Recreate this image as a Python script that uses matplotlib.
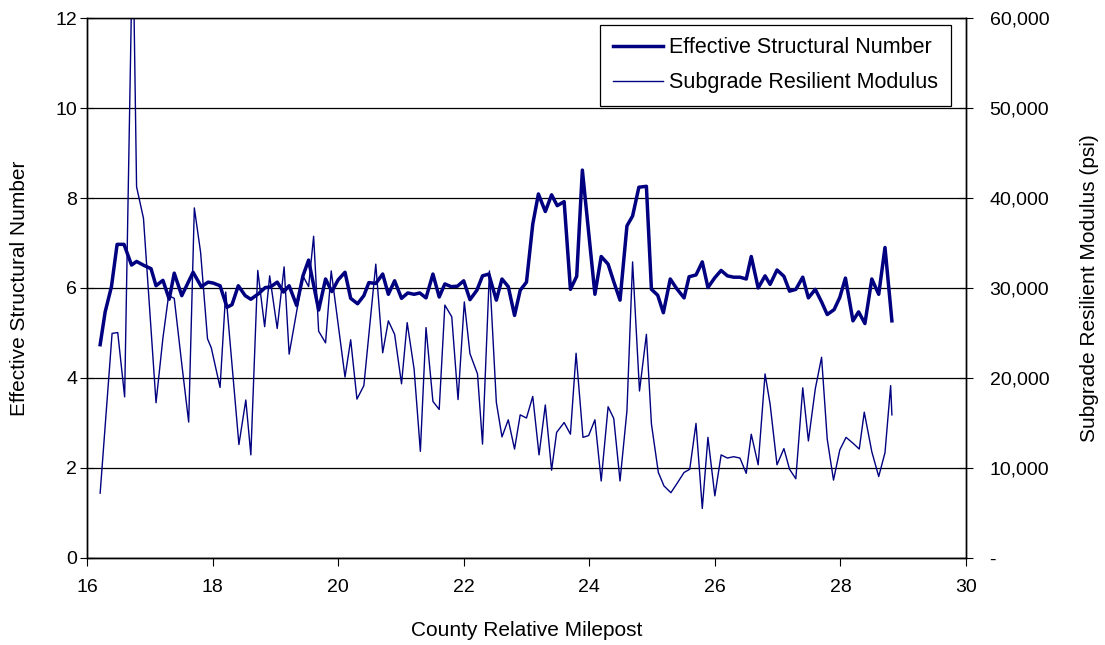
import matplotlib.pyplot as plt
from matplotlib.ticker import FuncFormatter
from matplotlib.lines import Line2D

plt.rcParams['font.family'] = ['Liberation Sans', 'DejaVu Sans']

# Effective Structural Number vs milepost
mp_sn = [16.21, 16.29, 16.39, 16.48, 16.59, 16.71, 16.79, 16.91, 17.02, 17.10,
         17.21, 17.31, 17.39, 17.51, 17.69, 17.82, 17.93, 18.01, 18.12, 18.23,
         18.31, 18.41, 18.52, 18.61, 18.73, 18.84, 18.92, 19.03, 19.13, 19.22,
         19.34, 19.44, 19.53, 19.69, 19.80, 19.90, 20.00, 20.11, 20.20, 20.31,
         20.41, 20.49, 20.60, 20.71, 20.80, 20.90, 21.01, 21.11, 21.21, 21.30,
         21.40, 21.51, 21.61, 21.70, 21.80, 21.90, 22.00, 22.10, 22.21, 22.30,
         22.40, 22.52, 22.61, 22.71, 22.81, 22.90, 23.00, 23.10, 23.19, 23.30,
         23.40, 23.49, 23.60, 23.70, 23.80, 23.89, 24.09, 24.19, 24.30, 24.39,
         24.49, 24.60, 24.69, 24.79, 24.91, 24.99, 25.09, 25.18, 25.29, 25.39,
         25.51, 25.59, 25.70, 25.80, 25.89, 26.00, 26.10, 26.20, 26.30, 26.40,
         26.50, 26.58, 26.69, 26.80, 26.88, 26.99, 27.10, 27.19, 27.29, 27.40,
         27.49, 27.60, 27.70, 27.79, 27.90, 27.99, 28.08, 28.20, 28.29, 28.39,
         28.50, 28.61, 28.71, 28.82]
sn = [4.74, 5.47, 6.03, 6.97, 6.97, 6.51, 6.59, 6.50, 6.43, 6.05,
      6.17, 5.75, 6.33, 5.83, 6.35, 6.03, 6.13, 6.11, 6.05, 5.57,
      5.63, 6.05, 5.83, 5.75, 5.87, 6.01, 6.02, 6.13, 5.91, 6.05,
      5.61, 6.27, 6.62, 5.51, 6.20, 5.92, 6.18, 6.35, 5.77, 5.65,
      5.83, 6.12, 6.10, 6.31, 5.86, 6.16, 5.77, 5.89, 5.86, 5.89,
      5.78, 6.31, 5.80, 6.09, 6.03, 6.04, 6.16, 5.74, 5.95, 6.27,
      6.31, 5.73, 6.20, 6.03, 5.39, 5.95, 6.13, 7.42, 8.09, 7.70,
      8.07, 7.83, 7.92, 5.97, 6.26, 8.62, 5.86, 6.70, 6.53, 6.14,
      5.73, 7.38, 7.60, 8.24, 8.26, 5.97, 5.84, 5.45, 6.20, 5.99,
      5.78, 6.25, 6.29, 6.58, 6.01, 6.23, 6.39, 6.27, 6.24, 6.24,
      6.20, 6.70, 6.00, 6.27, 6.08, 6.40, 6.26, 5.93, 5.97, 6.24,
      5.78, 5.97, 5.69, 5.41, 5.52, 5.79, 6.22, 5.27, 5.47, 5.21,
      6.20, 5.86, 6.90, 5.27]

# Subgrade resilient modulus (psi) vs milepost
mp_mr = [16.21, 16.40, 16.49, 16.60, 16.73, 16.79, 16.90, 17.10, 17.21, 17.30,
         17.39, 17.51, 17.62, 17.71, 17.81, 17.92, 17.98, 18.12, 18.21, 18.42,
         18.53, 18.61, 18.72, 18.83, 18.91, 19.03, 19.14, 19.22, 19.44, 19.53,
         19.61, 19.69, 19.80, 19.89, 20.11, 20.20, 20.30, 20.41, 20.60, 20.71,
         20.80, 20.90, 21.01, 21.10, 21.21, 21.31, 21.40, 21.51, 21.61, 21.70,
         21.81, 21.91, 22.01, 22.10, 22.22, 22.30, 22.41, 22.52, 22.61, 22.71,
         22.81, 22.90, 23.00, 23.10, 23.20, 23.30, 23.40, 23.48, 23.60, 23.70,
         23.79, 23.90, 23.99, 24.09, 24.19, 24.30, 24.39, 24.49, 24.60, 24.69,
         24.80, 24.91, 24.99, 25.10, 25.19, 25.30, 25.40, 25.51, 25.60, 25.70,
         25.80, 25.89, 26.00, 26.10, 26.20, 26.30, 26.40, 26.50, 26.58, 26.69,
         26.80, 26.88, 26.99, 27.10, 27.19, 27.29, 27.40, 27.49, 27.60, 27.70,
         27.79, 27.89, 27.99, 28.09, 28.20, 28.30, 28.38, 28.50, 28.61, 28.71,
         28.80, 28.82]
mr = [7200, 24950, 25050, 17900, 70000, 41250, 37750, 17250, 24450, 29150,
      28850, 21550, 15100, 38900, 33950, 24350, 23350, 18950, 29550, 12600,
      17550, 11450, 31950, 25700, 31350, 25500, 32350, 22650, 31350, 30150,
      35750, 25200, 23900, 31900, 20100, 24250, 17650, 19150, 32650, 22800,
      26350, 24850, 19350, 26150, 21000, 11850, 25600, 17400, 16500, 28100,
      26800, 17600, 28450, 22700, 20450, 12650, 31900, 17300, 13450, 15350,
      12100, 15900, 15550, 17950, 11450, 17000, 9750, 13950, 15050, 13750,
      22750, 13400, 13600, 15350, 8550, 16800, 15500, 8550, 16350, 32900,
      18550, 24850, 14900, 9500, 8000, 7250, 8300, 9500, 9850, 14950,
      5500, 13400, 6900, 11450, 11100, 11250, 11100, 9400, 13750, 10350,
      20450, 17100, 10350, 12150, 9850, 8800, 18900, 13000, 18800, 22300,
      13200, 8650, 12000, 13400, 12750, 12100, 16200, 11800, 9050, 11700,
      19150, 15900]

navy = '#000080'

fig = plt.figure(figsize=(11.05, 6.45), dpi=100)
ax = fig.add_axes([0.0787, 0.135, 0.7955, 0.837])
ax2 = ax.twinx()

ax.plot(mp_sn, sn, color=navy, lw=2.5, zorder=3)
ax2.plot(mp_mr, mr, color=navy, lw=1.0)

ax.set_xlim(16, 30)
ax.set_ylim(0, 12)
ax.set_xticks(range(16, 31, 2))
ax.set_yticks(range(0, 13, 2))
ax2.set_ylim(0, 60000)
ax2.set_yticks(range(0, 60001, 10000))
ax2.yaxis.set_major_formatter(FuncFormatter(lambda v, p: '-' if v == 0 else f'{int(v):,}'))

ax.grid(axis='y', color='black', lw=0.9)
ax.set_axisbelow(True)
for a in (ax, ax2):
    for s in a.spines.values():
        s.set_color('black')
        s.set_linewidth(1.0)
ax.spines['top'].set_color('#808080')

ax.tick_params(axis='x', labelsize=14, length=6, direction='out', pad=9)
ax.tick_params(axis='y', labelsize=14, length=10, direction='inout', pad=2)
ax2.tick_params(axis='y', labelsize=14, length=10, direction='inout', pad=12)

ax.set_xlabel('County Relative Milepost', fontsize=15, labelpad=18)
ax.set_ylabel('Effective Structural Number', fontsize=15, labelpad=19)
ax2.set_ylabel('Subgrade Resilient Modulus (psi)', fontsize=15, labelpad=22)

handles = [Line2D([], [], color=navy, lw=2.5), Line2D([], [], color=navy, lw=1.0)]
leg = ax2.legend(handles, ['Effective Structural Number', 'Subgrade Resilient Modulus'],
                 loc='upper right', bbox_to_anchor=(0.983, 0.988), fontsize=15.5,
                 fancybox=False, framealpha=1, edgecolor='black',
                 handlelength=2.3, handletextpad=0.3, borderpad=0.6,
                 labelspacing=0.65, borderaxespad=0)
leg.get_frame().set_linewidth(0.9)

plt.savefig('out.png', dpi=100)
plt.close()
